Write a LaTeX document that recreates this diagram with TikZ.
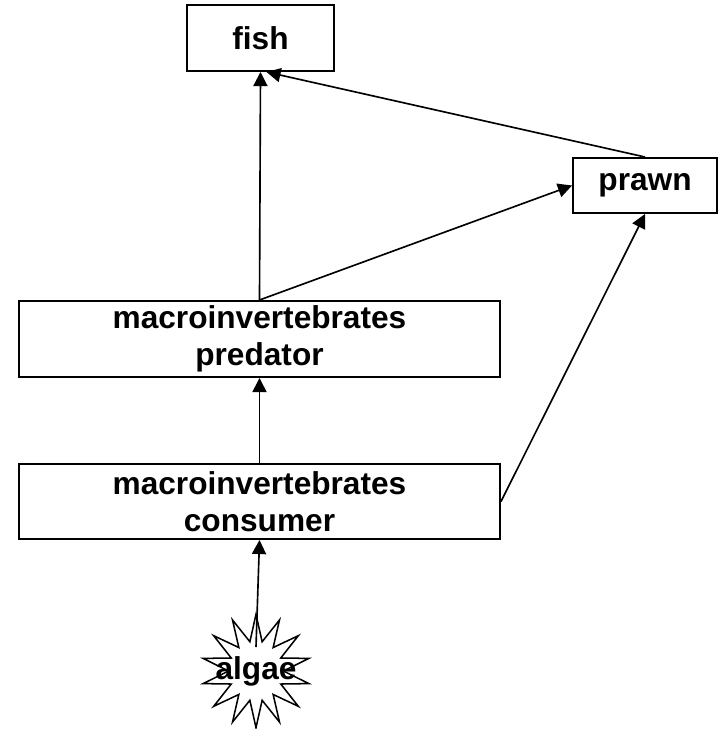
\documentclass[tikz,border=0pt]{standalone}
\usepackage{fontspec}
\setmainfont{Liberation Sans}
\usepackage{tikz}
\usetikzlibrary{arrows.meta, shapes.symbols, positioning}

\begin{document}
\begin{tikzpicture}[
  x=0.03cm, y=-0.03cm,
  every node/.style = {font=\fontsize{27}{31.6}\selectfont\bfseries},
  foodbox/.style = {rectangle, draw=black, line width=1.7pt,
                    minimum width=#1, inner sep=0pt,
                    align=center},
  burst/.style   = {starburst, draw=black, line width=1.3pt,
                    starburst points=14, starburst point height=0.8cm,
                    random starburst=0, inner sep=0pt,
                    minimum width=3.25cm, minimum height=3.4cm},
  arr/.style = {-{Triangle[length=12pt, width=12pt]}, line width=1.4pt, black},
]
\useasboundingbox (0,0) rectangle (721,729);

%% ══ TOP: fish and prawn ═════════════════════════════════════════════════
\node[foodbox=4.41cm, minimum height=1.98cm] at (260.5, 38) (fish) {fish};
\node[foodbox=4.32cm, minimum height=1.65cm] at (645, 185.5) (prawn) {prawn};

%% ══ MIDDLE: macroinvertebrates ══════════════════════════════════════════
\node[foodbox=14.43cm, minimum height=2.28cm] at (259.5, 339) (pred) {
  macroinvertebrates\\
  predator
};
\node[foodbox=14.43cm, minimum height=2.25cm] at (259.5, 501.5) (cons) {
  macroinvertebrates\\
  consumer
};

%% ══ BOTTOM: algae ═══════════════════════════════════════════════════════
\node[burst, label={[inner sep=0pt]center:algae}] at (256, 671) (algae) {};

%% ── arrows ──────────────────────────────────────────────────────────────
\draw[arr] ([yshift=0.72cm]algae.center) -- (cons.south);
\draw[arr] (cons.north) -- (pred.south);
\draw[arr] (cons.east)  -- (prawn.south);
\draw[arr] (pred.north) -- (fish.south);
\draw[arr] (pred.north) -- (prawn.west);
\draw[arr] (prawn.north) -- ([xshift=0.18cm]fish.south);

\end{tikzpicture}
\end{document}
